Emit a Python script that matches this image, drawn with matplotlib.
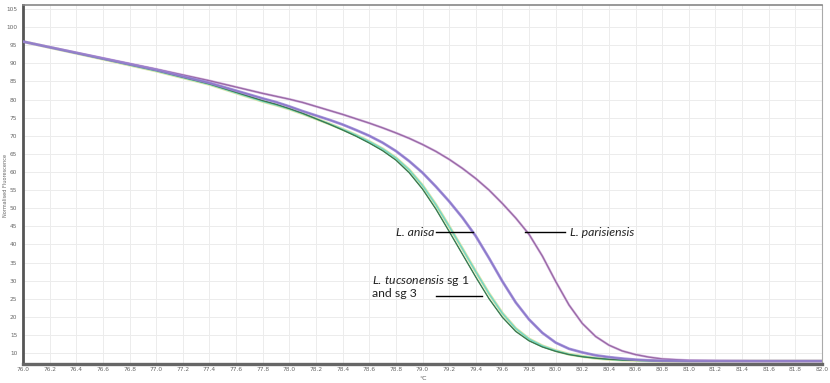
import matplotlib
matplotlib.use("Agg")
import matplotlib.pyplot as plt
import numpy as np

# temperature grid (deg C)
temps = [76.0, 76.5, 77.0, 77.4,
         77.8, 77.9, 78.0, 78.1, 78.2, 78.3, 78.4, 78.5, 78.6, 78.7,
         78.8, 78.9, 79.0, 79.1, 79.2, 79.3, 79.4, 79.5, 79.6, 79.7,
         79.8, 79.9, 80.0, 80.1, 80.2, 80.3, 80.4, 80.5, 80.6, 80.7,
         80.8, 81.0, 81.5, 82.0]

# normalised fluorescence, one list per melt curve
parisiensis = [96.0, 92.2, 88.4, 85.2,
               81.7, 80.9, 80.1, 79.2, 78.1, 77.0, 75.9, 74.7, 73.5, 72.2,
               70.8, 69.3, 67.6, 65.7, 63.5, 61.0, 58.2, 55.0, 51.3, 47.3,
               42.8, 36.8, 29.8, 23.3, 18.2, 14.6, 12.2, 10.6, 9.6, 8.9,
               8.4, 8.0, 7.8, 7.8]
anisa = [96.0, 92.1, 88.2, 84.6,
         80.3, 79.3, 78.1, 76.8, 75.6, 74.4, 73.1, 71.6, 70.0, 68.1,
         65.8, 63.0, 59.8, 56.0, 51.9, 47.4, 42.3, 36.2, 29.8, 24.0,
         19.3, 15.6, 12.9, 11.2, 10.2, 9.4, 8.9, 8.5, 8.2, 8.0,
         7.9, 7.8, 7.8, 7.8]
tucsonensis_a = [96.0, 92.0, 88.0, 84.3,
                 79.7, 78.7, 77.5, 76.2, 74.7, 73.2, 71.6, 69.9, 68.0, 65.9,
                 63.3, 59.8, 55.3, 49.8, 43.6, 37.3, 31.0, 25.0, 19.9, 16.0,
                 13.4, 11.7, 10.5, 9.6, 9.0, 8.6, 8.3, 8.1, 8.0, 7.9,
                 7.8, 7.8, 7.8, 7.8]
tucsonensis_b = [96.0, 92.0, 87.9, 84.2,
                 79.5, 78.5, 77.4, 76.1, 74.7, 73.3, 71.8, 70.2, 68.4, 66.4,
                 63.9, 60.6, 56.3, 51.0, 45.0, 38.8, 32.5, 26.4, 21.0, 16.8,
                 13.9, 12.0, 10.7, 9.7, 9.1, 8.6, 8.3, 8.1, 8.0, 7.9,
                 7.8, 7.8, 7.8, 7.8]

x_ticks = np.round(np.arange(76.0, 82.01, 0.2), 1)
y_ticks = list(range(10, 106, 5))

plt.rcParams['mathtext.fontset'] = 'custom'
plt.rcParams['mathtext.rm'] = 'Lato'
plt.rcParams['mathtext.it'] = 'Lato:italic'

fig = plt.figure(figsize=(8.3, 3.83), dpi=100)
ax = fig.add_axes([23/830, 19/383, 799/830, 359/383])

# tucsonensis bundle
ax.plot(temps, tucsonensis_b, color='#d9e3a8', lw=2.2, zorder=2)
ax.plot(temps, tucsonensis_b, color='#6fd6c8', lw=1.0, zorder=3)
ax.plot(temps, tucsonensis_a, color='#3aa86a', lw=1.0, zorder=3)
ax.plot(temps, tucsonensis_a, color='#4b5d48', lw=0.5, zorder=4)
# anisa
ax.plot(temps, anisa, color='#2e2e8c', lw=1.0, zorder=3)
ax.plot(temps, anisa, color='#9c86d6', lw=2.0, alpha=0.85, zorder=4)
# parisiensis
ax.plot(temps, parisiensis, color='#dcc0e6', lw=1.8, zorder=2)
ax.plot(temps, parisiensis, color='#9a6aa6', lw=1.0, zorder=3)

ax.set_xlim(76.0, 82.0)
ax.set_ylim(7.0, 106.1)
ax.set_xticks(x_ticks)
ax.set_xticklabels([f"{t:.1f}" for t in x_ticks])
ax.set_yticks(y_ticks)
ax.tick_params(length=0, labelsize=4.2, labelcolor='#666666')
ax.tick_params(axis='y', pad=4)
ax.tick_params(axis='x', pad=2.5)
ax.grid(True, color='#ececec', lw=0.7)
ax.set_axisbelow(True)

ax.spines['left'].set_color('#555555')
ax.spines['left'].set_linewidth(2.0)
ax.spines['bottom'].set_color('#666666')
ax.spines['bottom'].set_linewidth(2.4)
ax.spines['top'].set_color('#888888')
ax.spines['top'].set_linewidth(1.2)
ax.spines['right'].set_color('#aaaaaa')
ax.spines['right'].set_linewidth(0.8)

# curve labels
lab = dict(fontsize=8.8, color='#222222', family='Lato')
ax.text(79.09, 43.4, 'L. anisa', ha='right', va='center', style='italic', **lab)
ax.plot([79.10, 79.38], [43.4, 43.4], color='black', lw=1.0, zorder=5)
ax.plot([79.77, 80.07], [43.4, 43.4], color='black', lw=1.0, zorder=5)
ax.text(80.11, 43.4, 'L. parisiensis', ha='left', va='center', style='italic', **lab)
ax.text(78.62, 30.1, r'$\mathit{L.\,tucsonensis}$ sg 1', ha='left', va='center', **lab)
ax.text(78.62, 26.5, 'and sg 3', ha='left', va='center', **lab)
ax.plot([79.10, 79.45], [25.7, 25.7], color='black', lw=1.0, zorder=5)

fig.text(423/830, 1 - 378/383, '°C', ha='center', va='center', fontsize=4.5, color='#555555')
fig.text(6/830, 1 - 185/383, 'Normalised Fluorescence', rotation=90,
         ha='center', va='center', fontsize=3.6, color='#666666')

fig.savefig('out.png', dpi=100)
